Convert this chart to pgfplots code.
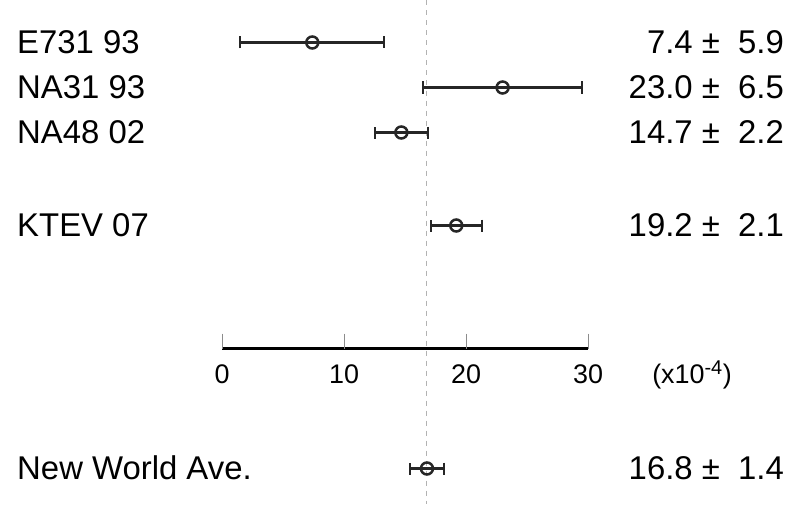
\documentclass[border=0pt]{standalone}
\usepackage{pgfplots}
\usepackage{pgfplotstable}
\pgfplotsset{compat=1.18}
\usepackage{fontspec}
\setmainfont{Liberation Sans}
\pgfplotstableread{
x err y
7.4 5.9 42
23.0 6.5 87
14.7 2.2 132
19.2 2.1 225
16.8 1.4 468
}\data
\begin{document}
\begin{tikzpicture}
\begin{axis}[
 width=793bp, height=503bp, scale only axis, hide axis,
 xmin=-18.197, xmax=46.803, ymin=0, ymax=503, y dir=reverse,
 clip=false,
]
\path (rel axis cs:0,0) rectangle (rel axis cs:1,1);
\addplot[black!30, line width=1bp, dash pattern=on 5bp off 5bp] coordinates {(16.8,0)(16.8,503)};
\addplot[black, line width=2.5bp] coordinates {(0,348)(30,348)};
\pgfplotsinvokeforeach{0,10,20,30}{
  \addplot[black!45, line width=1bp] coordinates {(#1,333)(#1,348)};
}
\addplot[black!85, line width=2.5bp, only marks, mark=o, mark size=6bp,
  mark options={fill=white, line width=2.5bp, solid},
  error bars/.cd, x dir=both, x explicit,
  error bar style={line width=2.5bp, black!85},
  error mark options={rotate=90, mark size=6bp, line width=2bp, black!85}]
  table[x=x, y=y, x error=err]{\data};
\begin{scope}[every node/.style={inner sep=0pt, font=\fontsize{33}{33}\selectfont}]
\node[anchor=base west] at (axis cs:-16.8,53) {E731 93};
\node[anchor=base west] at (axis cs:-16.8,98) {NA31 93};
\node[anchor=base west] at (axis cs:-16.8,143) {NA48 02};
\node[anchor=base west] at (axis cs:-16.8,236) {KTEV 07};
\node[anchor=base west] at (axis cs:-16.8,479) {New World Ave.};
\node[anchor=base east] at (axis cs:46.07,53) {7.4 ±\ \ 5.9};
\node[anchor=base east] at (axis cs:46.07,98) {23.0 ±\ \ 6.5};
\node[anchor=base east] at (axis cs:46.07,143) {14.7 ±\ \ 2.2};
\node[anchor=base east] at (axis cs:46.07,236) {19.2 ±\ \ 2.1};
\node[anchor=base east] at (axis cs:46.07,479) {16.8 ±\ \ 1.4};
\end{scope}
\begin{scope}[every node/.style={inner sep=0pt, font=\fontsize{27}{27}\selectfont}]
\node[anchor=base] at (axis cs:0,383) {0};
\node[anchor=base] at (axis cs:10,383) {10};
\node[anchor=base] at (axis cs:20,383) {20};
\node[anchor=base] at (axis cs:30,383) {30};
\node[anchor=base west] at (axis cs:35.25,383) {(x10\textsuperscript{\fontsize{20}{20}\selectfont -4})};
\end{scope}
\end{axis}
\end{tikzpicture}
\end{document}
